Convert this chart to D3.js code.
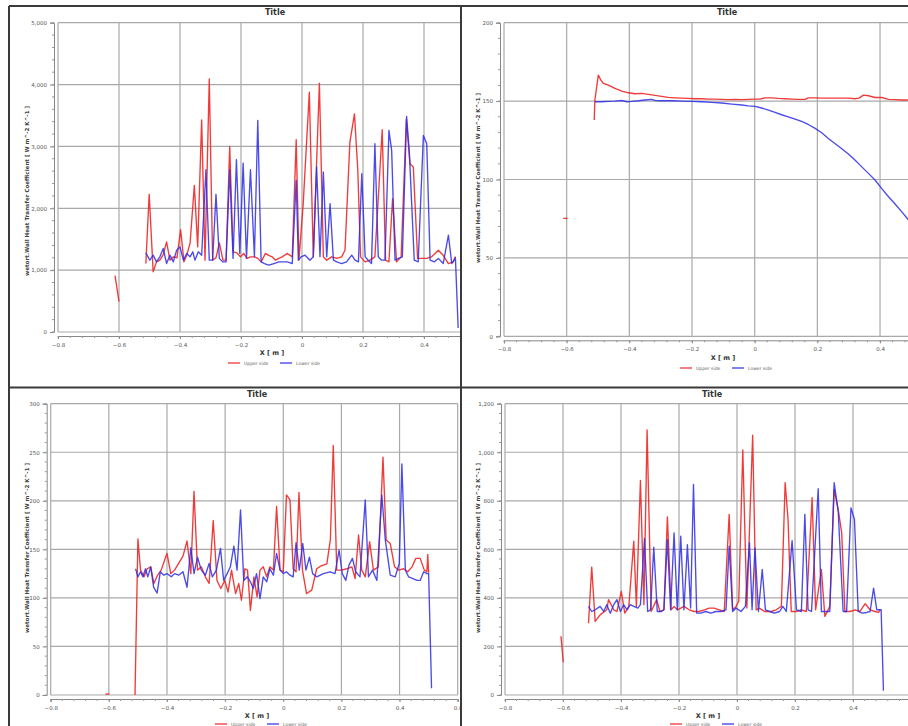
<!DOCTYPE html>
<html><head><meta charset="utf-8">
<script src="https://cdn.jsdelivr.net/npm/d3@7"></script>
<style>html,body{margin:0;padding:0;background:#fff;}svg{display:block;}</style>
</head><body>
<svg id="c" width="908" height="726"></svg>
<script>
// ---------- data ----------
const xTicks = [-0.8,-0.6,-0.4,-0.2,0,0.2,0.4,0.6];
const yTicksTL = [0,1000,2000,3000,4000,5000];
const yTicksTR = [0,50,100,150,200];
const yTicksBL = [0,50,100,150,200,250,300];
const yTicksBR = [0,200,400,600,800,1000,1200];
const seriesNames = ["Upper side","Lower side"];
const yTitle = "wetort.Wall Heat Transfer Coefficient [ W m^-2 K^-1 ]";
const xTitle = "X [ m ]";

const tlUpperIso = [[-0.613,910],[-0.6,490]];
const tlUpper = [[-0.512,1107],[-0.501,2226],[-0.488,973],[-0.477,1134],[-0.466,1161],[-0.455,1250],[-0.444,1457],[-0.433,1161],[-0.422,1215],[-0.41,1200],[-0.398,1656],[-0.387,1134],[-0.378,1242],[-0.367,1430],[-0.353,2371],[-0.342,1376],[-0.329,3430],[-0.318,1161],[-0.304,4091],[-0.293,1161],[-0.282,1200],[-0.271,1441],[-0.259,1161],[-0.249,1161],[-0.237,3000],[-0.226,1296],[-0.213,1280],[-0.202,1215],[-0.191,1270],[-0.18,1190],[-0.169,1215],[-0.156,1215],[-0.145,1190],[-0.134,1134],[-0.12,1270],[-0.109,1240],[-0.098,1215],[-0.087,1161],[-0.076,1190],[-0.065,1215],[-0.048,1270],[-0.032,1215],[-0.019,3108],[-0.01,1161],[0.004,2075],[0.024,3876],[0.037,1215],[0.057,4022],[0.07,1215],[0.081,1161],[0.097,1215],[0.114,1190],[0.13,1215],[0.141,1322],[0.157,3070],[0.172,3527],[0.183,2613],[0.192,1215],[0.207,1134],[0.223,1161],[0.239,1215],[0.263,3269],[0.274,1161],[0.285,1134],[0.297,2156],[0.31,1134],[0.325,1215],[0.342,3440],[0.354,2720],[0.365,2667],[0.379,1190],[0.392,1190],[0.409,1190],[0.425,1215],[0.447,1322],[0.463,1240],[0.48,1107],[0.496,1134],[0.503,1220]];
const tlLower = [[-0.512,1280],[-0.499,1161],[-0.488,1242],[-0.477,1134],[-0.466,1215],[-0.455,1350],[-0.444,1107],[-0.433,1242],[-0.422,1134],[-0.411,1322],[-0.4,1376],[-0.389,1161],[-0.378,1270],[-0.367,1215],[-0.358,1296],[-0.351,1161],[-0.34,1296],[-0.329,1242],[-0.315,2624],[-0.304,1161],[-0.293,1161],[-0.282,2226],[-0.271,1190],[-0.26,1134],[-0.249,1134],[-0.237,2624],[-0.226,1190],[-0.215,2785],[-0.204,1270],[-0.193,2731],[-0.182,1190],[-0.169,2624],[-0.156,1215],[-0.145,3419],[-0.134,1134],[-0.123,1107],[-0.109,1080],[-0.092,1107],[-0.076,1134],[-0.048,1134],[-0.032,1107],[-0.019,2452],[-0.012,1161],[-0.003,1215],[0.01,1242],[0.026,1161],[0.037,1215],[0.048,2667],[0.059,1215],[0.07,2586],[0.081,1215],[0.092,2075],[0.103,1161],[0.114,1134],[0.13,1107],[0.146,1134],[0.163,1242],[0.174,1161],[0.185,1134],[0.196,2559],[0.207,1215],[0.217,1161],[0.228,1107],[0.239,3043],[0.25,1215],[0.261,1161],[0.272,1161],[0.285,3258],[0.294,2935],[0.305,1161],[0.316,1190],[0.329,1215],[0.343,3484],[0.352,2900],[0.368,1161],[0.381,1134],[0.398,3177],[0.409,3043],[0.42,1161],[0.434,1134],[0.447,1190],[0.463,1107],[0.48,1565],[0.491,1107],[0.499,1161],[0.503,1200],[0.512,65]];

const trUpperIso = [[-0.611,75.2],[-0.597,75.2]];
const trUpper = [[-0.512,137.9],[-0.51,150.7],[-0.499,166.6],[-0.491,163.4],[-0.483,161.3],[-0.467,160.2],[-0.446,158.1],[-0.424,156.4],[-0.403,155.3],[-0.382,154.7],[-0.361,154.9],[-0.339,154.3],[-0.318,153.6],[-0.297,153.0],[-0.276,152.4],[-0.254,152.1],[-0.233,151.9],[-0.212,151.7],[-0.19,151.5],[-0.169,151.5],[-0.148,151.3],[-0.127,151.3],[-0.105,151.1],[-0.084,150.9],[-0.063,151.1],[-0.041,150.9],[-0.02,151.1],[0.001,151.3],[0.017,151.3],[0.033,152.1],[0.054,152.1],[0.076,151.7],[0.097,151.5],[0.118,151.3],[0.139,151.1],[0.161,151.1],[0.171,152.1],[0.193,152.1],[0.214,151.9],[0.235,151.9],[0.256,151.9],[0.277,151.9],[0.299,151.9],[0.32,151.5],[0.333,151.9],[0.347,153.8],[0.363,153.4],[0.384,152.3],[0.405,152.3],[0.427,151.1],[0.448,150.9],[0.469,150.7],[0.489,150.7]];
const trLower = [[-0.51,149.6],[-0.488,149.6],[-0.467,149.8],[-0.446,150.0],[-0.424,150.4],[-0.408,149.6],[-0.393,149.8],[-0.371,150.2],[-0.35,150.7],[-0.329,151.1],[-0.318,150.4],[-0.297,150.2],[-0.265,150.2],[-0.233,150.0],[-0.201,149.8],[-0.169,149.6],[-0.137,149.2],[-0.105,148.8],[-0.073,148.1],[-0.041,147.5],[-0.02,147.0],[0.001,146.6],[0.022,145.6],[0.044,144.3],[0.065,142.8],[0.086,141.3],[0.107,140.0],[0.129,138.5],[0.15,137.0],[0.171,135.1],[0.193,132.6],[0.214,129.8],[0.235,126.2],[0.256,123.0],[0.277,119.8],[0.299,116.2],[0.32,112.4],[0.341,108.2],[0.363,103.9],[0.384,99.7],[0.405,94.3],[0.427,89.0],[0.448,84.4],[0.469,79.5],[0.489,74.6],[0.51,69.5]];

const blUpperIso = [[-0.612,1],[-0.598,1]];
const blUpper = [[-0.51,0],[-0.5,160.7],[-0.491,128.6],[-0.479,121.7],[-0.468,130],[-0.456,132],[-0.445,114.8],[-0.433,123],[-0.42,128.6],[-0.4,145.9],[-0.387,125],[-0.374,128.6],[-0.36,135.5],[-0.345,143],[-0.331,158.6],[-0.318,125],[-0.307,209.7],[-0.295,128.6],[-0.282,132],[-0.268,121.7],[-0.255,114.8],[-0.241,179.7],[-0.228,118],[-0.215,109.7],[-0.201,118],[-0.19,106],[-0.178,128.6],[-0.164,104.5],[-0.153,114.8],[-0.144,97.6],[-0.132,130],[-0.123,128.6],[-0.113,87.2],[-0.101,121.7],[-0.09,101],[-0.08,128.6],[-0.069,132],[-0.057,121.7],[-0.046,132],[-0.034,128.6],[-0.023,194.1],[-0.011,128.6],[0,126.9],[0.011,206],[0.023,201],[0.034,130],[0.044,126.9],[0.054,208.6],[0.066,128.6],[0.08,104.5],[0.098,108],[0.115,130],[0.13,133],[0.15,135],[0.162,160],[0.172,257],[0.184,128.6],[0.201,128.6],[0.218,130],[0.236,132],[0.247,120],[0.259,164.8],[0.27,128.6],[0.282,121.7],[0.297,158],[0.31,128.6],[0.327,132],[0.343,245],[0.354,159.7],[0.368,156],[0.383,132],[0.397,128.6],[0.414,130],[0.428,126.9],[0.443,132],[0.456,140.7],[0.471,140.7],[0.485,128.6],[0.494,126.9],[0.497,144.7],[0.5,125.8]];
const blLower = [[-0.508,130],[-0.5,121.7],[-0.491,126.9],[-0.483,121.7],[-0.474,130],[-0.466,121.7],[-0.456,132],[-0.446,111],[-0.434,105],[-0.423,126.9],[-0.411,123.4],[-0.4,125],[-0.385,121.7],[-0.374,125],[-0.36,123.4],[-0.345,126.9],[-0.331,111],[-0.318,151.7],[-0.307,125],[-0.295,142],[-0.282,128.6],[-0.268,123.4],[-0.255,135.5],[-0.244,121.7],[-0.23,128.6],[-0.216,151],[-0.205,118],[-0.193,125],[-0.182,132],[-0.17,153.4],[-0.159,128.6],[-0.147,190.7],[-0.136,118],[-0.124,121.7],[-0.113,116.6],[-0.103,109.7],[-0.092,125],[-0.08,99.3],[-0.069,121.7],[-0.057,116.6],[-0.046,130],[-0.034,123.4],[-0.023,145.9],[-0.011,128.6],[0,125],[0.011,126.9],[0.023,123.4],[0.034,121.7],[0.044,157],[0.055,128.6],[0.067,156],[0.078,128.6],[0.09,142],[0.101,125],[0.115,121.7],[0.138,125],[0.161,126.9],[0.178,125],[0.192,149.3],[0.203,125],[0.215,118],[0.226,133.7],[0.238,140.7],[0.249,126.9],[0.264,121.7],[0.282,201],[0.293,121.7],[0.307,128.6],[0.322,118],[0.339,206],[0.351,159.7],[0.368,123.4],[0.385,121.7],[0.399,135.5],[0.408,238],[0.42,128.6],[0.431,121.7],[0.444,120],[0.46,118],[0.471,118],[0.483,126.9],[0.494,125],[0.5,125],[0.51,7]];

const brUpperIso = [[-0.607,242],[-0.599,135]];
const brUpper = [[-0.512,296],[-0.501,527],[-0.489,303],[-0.472,330],[-0.449,351],[-0.443,393],[-0.425,351],[-0.414,344],[-0.399,427],[-0.387,337],[-0.373,365],[-0.356,634],[-0.347,365],[-0.333,884],[-0.321,372],[-0.31,1092],[-0.296,344],[-0.277,393],[-0.266,344],[-0.252,351],[-0.24,734],[-0.227,351],[-0.217,365],[-0.206,351],[-0.194,358],[-0.183,365],[-0.165,351],[-0.148,344],[-0.131,344],[-0.113,351],[-0.096,358],[-0.079,358],[-0.061,351],[-0.044,344],[-0.027,744],[-0.015,351],[-0.003,365],[0.006,386],[0.02,1010],[0.034,358],[0.054,1070],[0.066,351],[0.077,358],[0.095,344],[0.118,344],[0.135,351],[0.153,365],[0.166,875],[0.176,724],[0.187,344],[0.205,344],[0.222,351],[0.239,344],[0.259,813],[0.271,351],[0.291,517],[0.303,324],[0.32,365],[0.335,847],[0.349,765],[0.361,668],[0.372,344],[0.39,344],[0.407,351],[0.424,344],[0.442,376],[0.459,351],[0.476,344],[0.488,340],[0.494,351]];
const brLower = [[-0.512,365],[-0.501,344],[-0.489,351],[-0.472,365],[-0.46,344],[-0.449,372],[-0.437,337],[-0.425,372],[-0.414,393],[-0.402,344],[-0.391,372],[-0.379,351],[-0.368,372],[-0.356,365],[-0.342,358],[-0.333,372],[-0.319,645],[-0.308,344],[-0.298,351],[-0.287,609],[-0.275,344],[-0.261,344],[-0.252,351],[-0.24,641],[-0.229,351],[-0.217,668],[-0.206,351],[-0.194,654],[-0.183,351],[-0.171,619],[-0.16,358],[-0.15,867],[-0.139,337],[-0.125,337],[-0.108,344],[-0.09,337],[-0.073,344],[-0.055,344],[-0.038,351],[-0.027,613],[-0.015,344],[-0.003,358],[0.014,344],[0.029,365],[0.043,627],[0.052,351],[0.062,606],[0.074,344],[0.087,517],[0.098,351],[0.112,344],[0.129,337],[0.147,344],[0.158,365],[0.17,344],[0.19,636],[0.205,351],[0.222,344],[0.234,744],[0.245,351],[0.257,344],[0.28,850],[0.291,344],[0.303,344],[0.32,344],[0.335,875],[0.349,755],[0.366,344],[0.378,344],[0.393,771],[0.405,723],[0.418,344],[0.432,337],[0.447,340],[0.459,344],[0.471,440],[0.482,351],[0.491,351],[0.497,351],[0.505,18]];

// ---------- layout ----------
const panels = [
  {clip:[9,6,452,381], xr:[58,485], yr:[332,22.7], yd:[0,5000], yt:yTicksTL, ym:200, fmt:d3.format(","),
   title:[275,15], xl:[272,355], leg:[228,363], yl:[27,191], up:tlUpper, lo:tlLower, iso:tlUpperIso},
  {clip:[461,6,447,381], xr:[504,942.7], yr:[336.3,22.7], yd:[0,200], yt:yTicksTR, ym:10, fmt:d3.format(","),
   title:[727,15], xl:[723,360], leg:[680,368], yl:[478,178], up:trUpper, lo:trLower, iso:trUpperIso},
  {clip:[9,387,452,339], xr:[50.7,457.7], yr:[695,403.7], yd:[0,300], yt:yTicksBL, ym:10, fmt:d3.format(","),
   title:[257,397], xl:[257,718], leg:[215,724], yl:[27,548], up:blUpper, lo:blLower, iso:blUpperIso},
  {clip:[461,387,447,339], xr:[505,911], yr:[695,403.7], yd:[0,1200], yt:yTicksBR, ym:40, fmt:d3.format(","),
   title:[712,397], xl:[708,718], leg:[670,724], yl:[478,548], up:brUpper, lo:brLower, iso:brUpperIso}
];
const RED = "#ee2626", BLUE = "#2b2be8";
const FONT = "'DejaVu Sans', Verdana, sans-serif";

const svg = d3.select("#c");
svg.append("rect").attr("width",908).attr("height",726).attr("fill","#fff");
const defs = svg.append("defs");

panels.forEach((p,i) => {
  defs.append("clipPath").attr("id","cp"+i).append("rect")
    .attr("x",p.clip[0]).attr("y",p.clip[1]).attr("width",p.clip[2]).attr("height",p.clip[3]);
  const g = svg.append("g").attr("clip-path",`url(#cp${i})`);
  const x = d3.scaleLinear().domain([-0.8,0.6]).range(p.xr);
  const y = d3.scaleLinear().domain(p.yd).range(p.yr);
  const left = p.xr[0], right = p.xr[1], bottom = p.yr[0], top = p.yr[1];
  const clipRight = p.clip[0] + p.clip[2];
  const visX = xTicks.filter(d => x(d) <= clipRight + 1);

  // grid
  g.append("g").selectAll("line").data(xTicks).join("line")
    .attr("x1",d=>x(d)).attr("x2",d=>x(d)).attr("y1",top).attr("y2",bottom)
    .attr("stroke","#a9a9a9").attr("stroke-width",1.2);
  g.append("g").selectAll("line").data(p.yt).join("line")
    .attr("x1",left).attr("x2",right).attr("y1",d=>y(d)).attr("y2",d=>y(d))
    .attr("stroke","#a9a9a9").attr("stroke-width",1.2);

  // y axis (offset left)
  const yMinor = d3.range(p.yd[0], p.yd[1]+1e-9, p.ym);
  const yAxis = d3.axisLeft(y).tickValues(p.yt).tickFormat(p.fmt).tickSize(4).tickPadding(3);
  const ya = g.append("g").attr("transform",`translate(${left-4},0)`).call(yAxis);
  ya.selectAll(".tick line").attr("stroke","#888");
  ya.select(".domain").attr("stroke","#888");
  ya.selectAll("text").attr("font-family",FONT).attr("font-size",5.5).attr("fill","#555");
  g.append("g").attr("transform",`translate(${left-4},0)`).selectAll("line").data(yMinor).join("line")
    .attr("x1",-2).attr("x2",0).attr("y1",d=>y(d)).attr("y2",d=>y(d)).attr("stroke","#999");

  // x axis (offset down)
  const xAxis = d3.axisBottom(x).tickValues(visX)
    .tickFormat(d => d===0 ? "0" : d3.format(".1f")(d)).tickSize(3).tickPadding(4);
  const xa = g.append("g").attr("transform",`translate(0,${bottom+4})`).call(xAxis);
  xa.selectAll(".tick line").attr("stroke","#888");
  xa.select(".domain").attr("stroke","#888");
  xa.selectAll("text").attr("font-family",FONT).attr("font-size",5.5).attr("fill","#555");
  g.append("g").attr("transform",`translate(0,${bottom+4})`).selectAll("line")
    .data(d3.range(-0.8,0.6001,0.04)).join("line")
    .attr("x1",d=>x(d)).attr("x2",d=>x(d)).attr("y1",0).attr("y2",2).attr("stroke","#999");

  // series
  const line = d3.line().x(d=>x(d[0])).y(d=>y(d[1]));
  const dg = g.append("g").attr("fill","none").attr("stroke-width",1.35).attr("stroke-linejoin","round");
  dg.append("path").datum(p.iso).attr("d",line).attr("stroke",RED).attr("opacity",0.9);
  dg.append("path").datum(p.up).attr("d",line).attr("stroke",RED).attr("opacity",0.9);
  dg.append("path").datum(p.lo).attr("d",line).attr("stroke",BLUE).attr("opacity",0.85);

  // titles
  g.append("text").attr("x",p.title[0]).attr("y",p.title[1]).attr("text-anchor","middle")
    .attr("font-family",FONT).attr("font-size",8).attr("font-weight","bold").attr("fill","#333").text("Title");
  g.append("text").attr("x",p.xl[0]).attr("y",p.xl[1]).attr("text-anchor","middle")
    .attr("font-family",FONT).attr("font-size",6.5).attr("font-weight","bold").attr("fill","#333").text(xTitle);
  g.append("text").attr("transform",`translate(${p.yl[0]},${p.yl[1]}) rotate(-90)`).attr("text-anchor","middle")
    .attr("dy","0.35em").attr("font-family",FONT).attr("font-size",5.6).attr("font-weight","bold").attr("fill","#444").text(yTitle);

  // legend
  const lg = g.append("g").attr("transform",`translate(${p.leg[0]},${p.leg[1]})`);
  const cols = [RED, BLUE];
  seriesNames.forEach((s,k) => {
    const ox = k*52;
    lg.append("line").attr("x1",ox).attr("x2",ox+12).attr("y1",0).attr("y2",0).attr("stroke",cols[k]).attr("stroke-width",1.2);
    lg.append("text").attr("x",ox+16).attr("y",0).attr("dy","0.35em").attr("font-family",FONT)
      .attr("font-size",4.5).attr("fill","#666").text(s);
  });
});

// panel frame lines
const frame = [[9,6,9,726],[9,6,908,6],[461,6,461,726],[9,387.5,908,387.5]];
svg.append("g").selectAll("line").data(frame).join("line")
  .attr("x1",d=>d[0]).attr("y1",d=>d[1]).attr("x2",d=>d[2]).attr("y2",d=>d[3])
  .attr("stroke","#3a3a3a").attr("stroke-width",2);
</script>
</body></html>
